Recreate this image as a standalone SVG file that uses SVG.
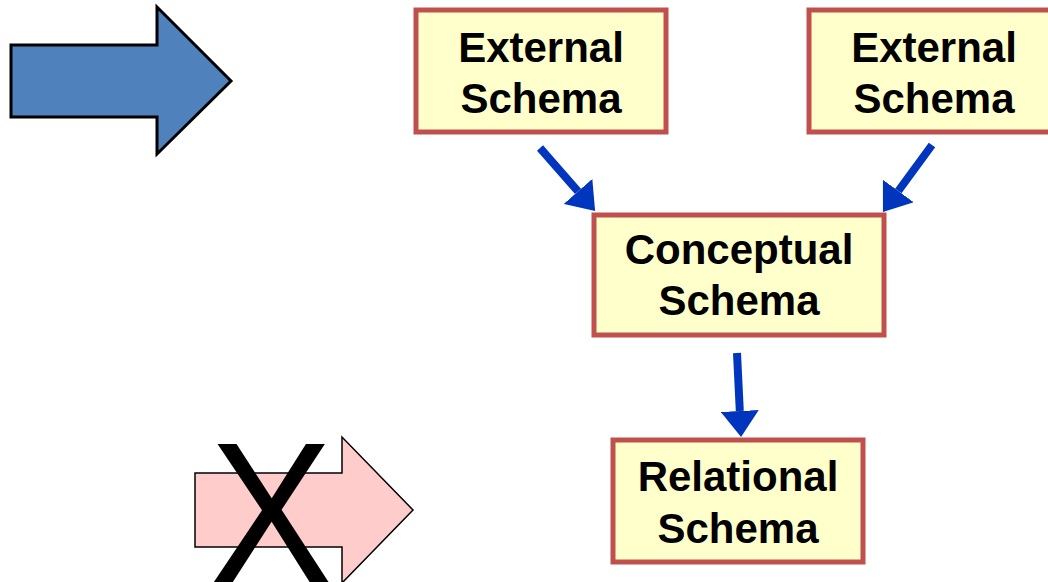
<svg xmlns="http://www.w3.org/2000/svg" width="1048" height="582" viewBox="0 0 1048 582">
<style>
.box{fill:#FFFFCC;stroke:#C0504D;stroke-width:5}
.lbl{font-family:"Liberation Sans",Arial,sans-serif;font-weight:bold;font-size:42px;fill:#000;text-anchor:middle}
.conn{stroke:#0036BE;stroke-width:8;fill:none}
</style>
<defs>
<marker id="ah" markerUnits="userSpaceOnUse" markerWidth="26" markerHeight="38" refX="0" refY="19" orient="auto" viewBox="0 0 26 38">
<path d="M0,0 L26,19 L0,38 z" fill="#0036BE"/>
</marker>
</defs>
<g id="blue-arrow">
<path d="M11,45 L157,45 L157,7 L231,81 L157,154 L157,117 L11,117 z" fill="#4F81BD" stroke="#000" stroke-width="3"/>
</g>
<g id="crossed-arrow">
<path d="M195,473 L342,473 L342,437 L413,510 L342,583 L342,547 L195,547 z" fill="#FFCCCC" stroke="#000" stroke-width="1.5"/>
<text transform="translate(271,582) scale(0.92,1)" x="0" y="0" font-family="'Liberation Sans',Arial,sans-serif" font-size="200" text-anchor="middle" fill="#000">X</text>
</g>
<g id="ext1">
<rect class="box" x="416" y="10" width="250" height="122"/>
<text class="lbl" x="541" y="62">External</text>
<text class="lbl" x="541" y="113">Schema</text>
</g>
<g id="ext2">
<rect class="box" x="809" y="10" width="250" height="122"/>
<text class="lbl" x="934" y="62">External</text>
<text class="lbl" x="934" y="113">Schema</text>
</g>
<g id="conceptual">
<rect class="box" x="594" y="215" width="290" height="120"/>
<text class="lbl" x="739" y="264">Conceptual</text>
<text class="lbl" x="739" y="315">Schema</text>
</g>
<g id="relational">
<rect class="box" x="613" y="440" width="250" height="122"/>
<text class="lbl" x="738" y="491">Relational</text>
<text class="lbl" x="738" y="543">Schema</text>
</g>
<g id="connectors">
<line class="conn" x1="540" y1="148" x2="578" y2="191.4" marker-end="url(#ah)"/>
<line class="conn" x1="932" y1="145" x2="898.3" y2="191" marker-end="url(#ah)"/>
<line class="conn" x1="737" y1="353" x2="739.8" y2="411" marker-end="url(#ah)"/>
</g>
</svg>
